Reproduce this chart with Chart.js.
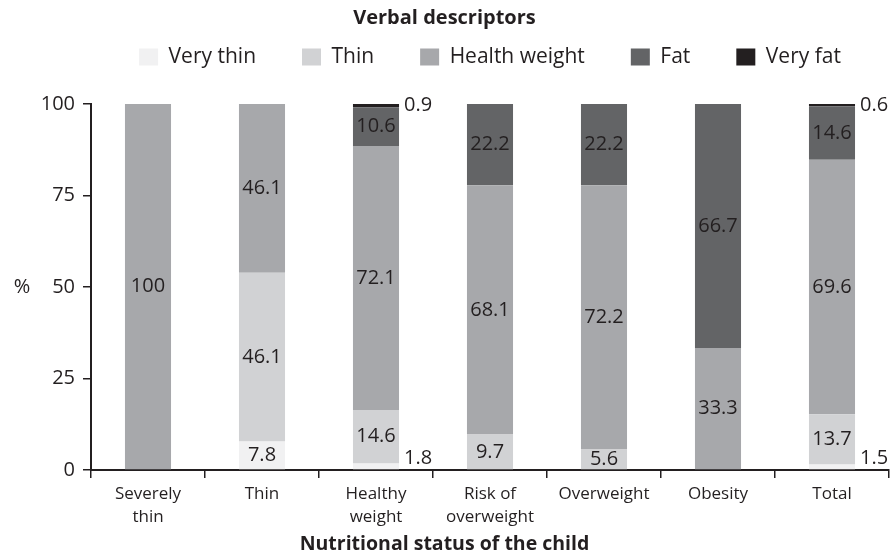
<!DOCTYPE html>
<html>
<head>
<meta charset="utf-8">
<script src="https://cdn.jsdelivr.net/npm/chart.js@4.4.1/dist/chart.umd.min.js"></script>
<style>
  html, body { margin: 0; padding: 0; background: #ffffff; }
  #wrap { width: 893px; height: 555px; }
</style>
</head>
<body>
<div id="wrap"><canvas id="chart" width="893" height="555"></canvas></div>
<script>
// ---- data ----
const categories = [["Severely", "thin"], "Thin", ["Healthy", "weight"], ["Risk of", "overweight"], "Overweight", "Obesity", "Total"];
const seriesNames = ["Very thin", "Thin", "Health weight", "Fat", "Very fat"];
const veryThin     = [0,   7.8,  1.8,  0,    0,    0,    1.5];
const thin         = [0,   46.1, 14.6, 9.7,  5.6,  0,    13.7];
const healthWeight = [100, 46.1, 72.1, 68.1, 72.2, 33.3, 69.6];
const fat          = [0,   0,    10.6, 22.2, 22.2, 66.7, 14.6];
const veryFat      = [0,   0,    0.9,  0,    0,    0,    0.6];
const yTicks = [0, 25, 50, 75, 100];
const legendTitle = "Verbal descriptors";
const xTitle = "Nutritional status of the child";
const yTitle = "%";

// ---- style ----
const ink = '#231f20';
const colors = ['#f1f1f2', '#d1d2d4', '#a7a8ab', '#636466', '#231f20'];
const FONT = "'Open Sans', sans-serif";
Chart.defaults.font.family = FONT;
Chart.defaults.color = ink;

const seriesValues = [veryThin, thin, healthWeight, fat, veryFat];
const datasets = seriesNames.map((name, i) => ({
  label: name,
  data: seriesValues[i],
  backgroundColor: colors[i],
  borderWidth: 0
}));

const valueLabels = {
  id: 'valueLabels',
  afterDatasetsDraw(chart) {
    const { ctx, chartArea } = chart;
    ctx.save();
    ctx.font = "20px " + FONT;
    ctx.fillStyle = ink;
    ctx.textBaseline = 'middle';
    chart.data.datasets.forEach((ds, di) => {
      const meta = chart.getDatasetMeta(di);
      meta.data.forEach((bar, i) => {
        const v = ds.data[i];
        if (!v) return;
        const text = String(v);
        const cy = (bar.y + bar.base) / 2;
        if (v >= 3) {
          ctx.textAlign = 'center';
          ctx.fillText(text, bar.x, cy);
        } else {
          ctx.textAlign = 'left';
          ctx.fillText(text, bar.x + bar.width / 2 + 5, Math.min(cy, chartArea.bottom - 12));
        }
      });
    });
    ctx.restore();
  }
};

const yUnit = {
  id: 'yUnit',
  afterDraw(chart) {
    const { ctx } = chart;
    const ys = chart.scales.y;
    ctx.save();
    ctx.font = "20px " + FONT;
    ctx.fillStyle = ink;
    ctx.textAlign = 'center';
    ctx.textBaseline = 'middle';
    ctx.fillText(yTitle, ys.left + 22, ys.getPixelForValue((yTicks[0] + yTicks[yTicks.length - 1]) / 2));
    ctx.restore();
  }
};

new Chart(document.getElementById('chart'), {
  type: 'bar',
  data: { labels: categories, datasets },
  plugins: [valueLabels, yUnit],
  options: {
    responsive: false,
    animation: false,
    layout: { padding: { top: 0, left: 0, right: 4, bottom: 0 } },
    datasets: { bar: { categoryPercentage: 1.0, barPercentage: 0.404 } },
    plugins: {
      tooltip: { enabled: false },
      title: {
        display: true,
        position: 'top',
        text: legendTitle,
        color: ink,
        font: { size: 20, weight: 'bold', lineHeight: 1.2 },
        padding: { top: 6, bottom: -29.5 }
      },
      legend: {
        display: true,
        position: 'top',
        fullSize: false,
        labels: {
          boxWidth: 19,
          boxHeight: 17,
          padding: 46,
          color: ink,
          font: { size: 21 }
        }
      },
      subtitle: {
        display: true,
        position: 'bottom',
        text: xTitle,
        color: ink,
        font: { size: 19.5, weight: 'bold', lineHeight: 1.2 },
        padding: { top: 0, bottom: -1 }
      }
    },
    scales: {
      x: {
        stacked: true,
        offset: true,
        border: { display: true, color: ink, width: 2 },
        grid: {
          offset: true,
          drawOnChartArea: false,
          drawTicks: true,
          tickLength: 8,
          lineWidth: 1.5,
          color: (c) => (c.index === categories.length ? 'rgba(0,0,0,0)' : ink)
        },
        ticks: {
          color: ink,
          padding: 4.5,
          maxRotation: 0,
          autoSkip: false,
          font: { size: 17, lineHeight: 1.35 }
        },
        afterFit: (s) => { s.height = 62.6; }
      },
      x2: {
        type: 'category',
        position: 'top',
        display: true,
        grid: { display: false },
        border: { display: false },
        ticks: { display: false },
        afterFit: (s) => { s.height = 26.5; }
      },
      y: {
        stacked: true,
        min: yTicks[0],
        max: yTicks[yTicks.length - 1],
        border: { display: true, color: ink, width: 2 },
        grid: {
          drawOnChartArea: false,
          drawTicks: true,
          tickLength: 8,
          lineWidth: 1.5,
          color: ink
        },
        afterBuildTicks: (s) => { s.ticks = yTicks.map(v => ({ value: v })); },
        ticks: {
          color: ink,
          padding: 8,
          font: { size: 20 }
        },
        afterFit: (s) => { s.width = 91; }
      }
    }
  }
});
</script>
</body>
</html>
